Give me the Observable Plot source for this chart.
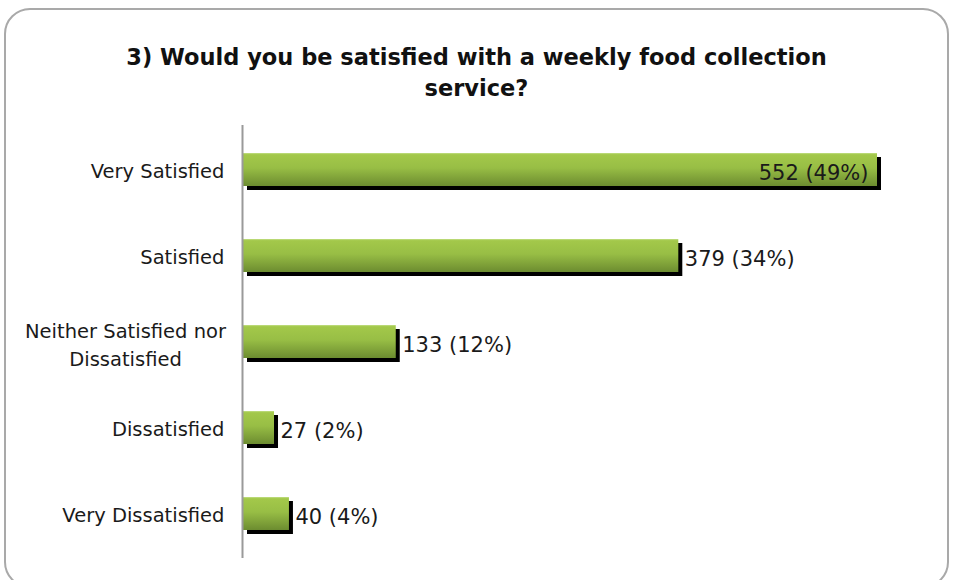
<!DOCTYPE html>
<html>
<head>
<meta charset="utf-8">
<script src="https://cdn.jsdelivr.net/npm/d3@7"></script>
<script src="https://cdn.jsdelivr.net/npm/@observablehq/plot@0.6"></script>
<style>
  body { margin: 0; background: #fff; width: 953px; height: 580px; overflow: hidden; position: relative; }
  #frame { position: absolute; left: 4px; top: 8px; width: 945px; height: 580px; border: 2px solid #a9a9a9; border-radius: 26px; box-sizing: border-box; }
  #title { position: absolute; top: 42px; left: 0; width: 953px; text-align: center; font: bold 22.5px "DejaVu Sans", sans-serif; line-height: 31px; color: #111; }
  #chart { position: absolute; left: 0; top: 110px; }
</style>
</head>
<body>
<div id="frame"></div>
<div id="title">3) Would you be satisfied with a weekly food collection<br>service?</div>
<div id="chart"></div>
<script>
const categories = ["Very Satisfied", "Satisfied", "Neither Satisfied nor Dissatisfied", "Dissatisfied", "Very Dissatisfied"];
const counts = [552, 379, 133, 27, 40];
const percents = [49, 34, 12, 2, 4];

const data = categories.map((c, i) => ({category: c, count: counts[i], pct: percents[i], label: `${counts[i]} (${percents[i]}%)`}));
const inside = data.filter(d => d.count > 500);
const outside = data.filter(d => d.count <= 500);
const wrapped = categories.filter(c => c.includes(" nor "));

const svg = Plot.plot({
  width: 953,
  height: 458,
  marginTop: 15,
  marginBottom: 10,
  marginLeft: 243,
  marginRight: 76,
  style: {fontFamily: "DejaVu Sans, sans-serif", fontSize: "19.5px", color: "#1a1a1a", background: "transparent", overflow: "visible"},
  x: {domain: [0, 552], axis: null},
  y: {domain: categories, paddingInner: 0.62, paddingOuter: 0.31, label: null},
  marks: [
    Plot.barX(data, {y: "category", x: "count", fill: "#000", dx: 4, dy: 4}),
    Plot.barX(data, {y: "category", x: "count", fill: "url(#barGrad)"}),
    Plot.ruleX([0], {stroke: "#9a9a9a", strokeWidth: 2, dx: -1}),
    Plot.axisY({tickSize: 0, tickPadding: 19, fontSize: 19.5, label: null, dy: 2,
      tickFormat: d => d.includes(" nor ") ? "" : d}),
    Plot.text(wrapped, {y: d => d, text: d => d.replace(" nor ", " nor\n"), frameAnchor: "left",
      textAnchor: "middle", dx: -118, dy: 1, lineHeight: 1.42, fontSize: 19.5, fill: "currentColor"}),
    Plot.text(inside, {y: "category", x: "count", text: "label", textAnchor: "end", dx: -9, dy: 3, fontSize: 21, fill: "#1a1a1a"}),
    Plot.text(outside, {y: "category", x: "count", text: "label", textAnchor: "start", dx: 6, dy: 3, fontSize: 21, fill: "#1a1a1a"})
  ]
});

const defs = d3.select(svg).insert("defs", ":first-child");
const g = defs.append("linearGradient").attr("id", "barGrad").attr("x1", 0).attr("y1", 0).attr("x2", 0).attr("y2", 1);
g.append("stop").attr("offset", "0").attr("stop-color", "#c2df86");
g.append("stop").attr("offset", "0.05").attr("stop-color", "#a3c84a");
g.append("stop").attr("offset", "0.45").attr("stop-color", "#98be45");
g.append("stop").attr("offset", "1").attr("stop-color", "#6c8c30");

document.getElementById("chart").appendChild(svg);
</script>
</body>
</html>
